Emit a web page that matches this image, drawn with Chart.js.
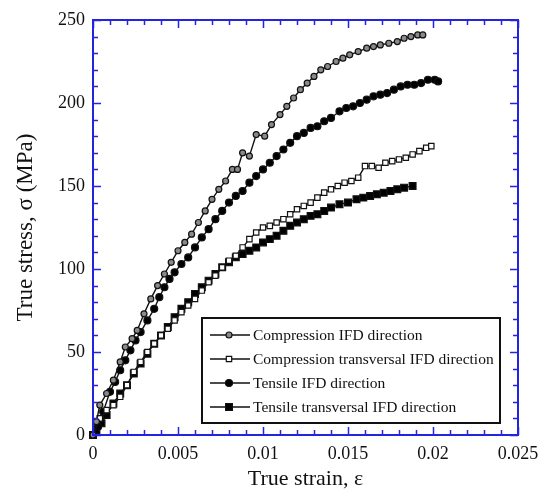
<!DOCTYPE html>
<html>
<head>
<meta charset="utf-8">
<script src="https://cdn.jsdelivr.net/npm/chart.js@4.4.1/dist/chart.umd.min.js"></script>
<style>
  html, body { margin: 0; padding: 0; background: #fff; }
  #wrap { width: 548px; height: 494px; }
</style>
</head>
<body>
<div id="wrap"><canvas id="stressChart" width="548" height="494"></canvas></div>
<script>
const AXIS_BLUE = '#2424e0';
const SERIF = '"Liberation Serif", "Times New Roman", serif';

const seriesLabels = [
  'Compression IFD direction',
  'Compression transversal IFD direction',
  'Tensile IFD direction',
  'Tensile transversal IFD direction'
];

// Compression, IFD direction (open grey circles)
const compIfdStrain = [0, 0.0002, 0.0004, 0.0008, 0.0012, 0.0016, 0.0019, 0.0023, 0.0026, 0.003, 0.0034, 0.0038, 0.0042, 0.0046, 0.005, 0.0054, 0.0058, 0.0062, 0.0066, 0.007, 0.0074, 0.0078, 0.0082, 0.0085, 0.0088, 0.0092, 0.0096, 0.0101, 0.0105, 0.011, 0.0114, 0.0118, 0.0122, 0.0126, 0.013, 0.0134, 0.0138, 0.0143, 0.0147, 0.0151, 0.0156, 0.0161, 0.0165, 0.0169, 0.0174, 0.0179, 0.0183, 0.0187, 0.0191, 0.0194];
const compIfdStress = [0, 8, 18, 25, 33, 44, 53, 58, 63, 73, 82, 90, 97, 104, 111, 116, 121, 128, 135, 142, 148, 153, 160, 160, 170, 168, 181, 180, 187, 193, 198, 203, 208, 212, 216, 220, 222, 225, 227, 229, 231, 233, 234, 235, 236, 237, 239, 240, 241, 241];

// Compression, transversal IFD direction (open squares)
const compTrStrain = [0, 0.0004, 0.0008, 0.0012, 0.0016, 0.002, 0.0024, 0.0028, 0.0032, 0.0036, 0.004, 0.0044, 0.0048, 0.0052, 0.0056, 0.006, 0.0064, 0.0068, 0.0072, 0.0076, 0.008, 0.0084, 0.0088, 0.0092, 0.0096, 0.01, 0.0104, 0.0108, 0.0112, 0.0116, 0.012, 0.0124, 0.0128, 0.0132, 0.0136, 0.014, 0.0144, 0.0148, 0.0152, 0.0156, 0.016, 0.0164, 0.0168, 0.0172, 0.0176, 0.018, 0.0184, 0.0188, 0.0192, 0.0196, 0.0199];
const compTrStress = [0, 10, 15, 18, 23, 30, 38, 44, 50, 55, 60, 64, 69, 74, 78, 82, 87, 92, 96, 101, 105, 108, 113, 118, 122, 125, 126, 128, 130, 133, 136, 138, 140, 143, 146, 148, 150, 152, 153, 155, 162, 162, 161, 164, 165, 166, 167, 169, 171, 173, 174];

// Tensile, IFD direction (filled circles)
const tensIfdStrain = [0, 0.0003, 0.0006, 0.001, 0.0013, 0.0016, 0.0019, 0.0022, 0.0025, 0.0028, 0.0032, 0.0036, 0.0039, 0.0042, 0.0045, 0.0048, 0.0052, 0.0056, 0.006, 0.0064, 0.0068, 0.0072, 0.0076, 0.008, 0.0084, 0.0088, 0.0092, 0.0096, 0.01, 0.0104, 0.0108, 0.0112, 0.0116, 0.012, 0.0124, 0.0128, 0.0132, 0.0136, 0.014, 0.0145, 0.0149, 0.0153, 0.0157, 0.0161, 0.0165, 0.0169, 0.0173, 0.0177, 0.0181, 0.0185, 0.0189, 0.0193, 0.0197, 0.0201, 0.0203];
const tensIfdStress = [0, 5, 14, 26, 32, 39, 45, 51, 57, 62, 69, 76, 83, 89, 94, 98, 103, 107, 113, 119, 124, 130, 135, 140, 144, 147, 152, 156, 160, 164, 168, 172, 176, 180, 182, 185, 186, 189, 191, 195, 197, 198, 200, 202, 204, 205, 206, 208, 210, 211, 211, 212, 214, 214, 213];

// Tensile, transversal IFD direction (filled squares)
const tensTrStrain = [0, 0.0002, 0.0005, 0.0008, 0.0012, 0.0016, 0.002, 0.0024, 0.0028, 0.0032, 0.0036, 0.004, 0.0044, 0.0048, 0.0052, 0.0056, 0.006, 0.0064, 0.0068, 0.0072, 0.0076, 0.008, 0.0084, 0.0088, 0.0092, 0.0096, 0.01, 0.0104, 0.0108, 0.0112, 0.0116, 0.012, 0.0124, 0.0128, 0.0132, 0.0136, 0.014, 0.0145, 0.015, 0.0155, 0.0159, 0.0163, 0.0167, 0.0171, 0.0175, 0.0179, 0.0183, 0.0188];
const tensTrStress = [0, 3, 7, 12, 19, 25, 30, 37, 43, 49, 55, 60, 65, 71, 76, 80, 85, 89, 93, 97, 101, 104, 107, 109, 111, 113, 116, 118, 120, 123, 126, 128, 130, 132, 133, 135, 137, 139, 140, 142, 143, 144, 145, 146, 147, 148, 149, 150];

// axis ticks
const xMajorTicks = [0, 0.005, 0.01, 0.015, 0.02, 0.025];
const yMajorTicks = [0, 50, 100, 150, 200, 250];
const xMinorStep = 0.001;
const yMinorStep = 10;

function toPoints(xs, ys) {
  return xs.map((x, i) => ({ x, y: ys[i] }));
}

const markerStyles = [
  { pointStyle: 'circle', radius: 3, fill: '#8a8a8a' },
  { pointStyle: 'rect', radius: 3.8, fill: '#ffffff' },
  { pointStyle: 'circle', radius: 3.5, fill: '#000000' },
  { pointStyle: 'rect', radius: 4.8, fill: '#000000' }
];

const seriesData = [
  toPoints(compIfdStrain, compIfdStress),
  toPoints(compTrStrain, compTrStress),
  toPoints(tensIfdStrain, tensIfdStress),
  toPoints(tensTrStrain, tensTrStress)
];

const datasets = seriesData.map((data, i) => ({
  label: seriesLabels[i],
  data,
  borderColor: '#111',
  borderWidth: 1.4,
  pointStyle: markerStyles[i].pointStyle,
  pointRadius: markerStyles[i].radius,
  pointBackgroundColor: markerStyles[i].fill,
  pointBorderColor: '#111',
  pointBorderWidth: 1.2,
  tension: 0,
  clip: false
}));

// blue frame with inward ticks on all four sides
const frameTicks = {
  id: 'frameTicks',
  afterDatasetsDraw(chart) {
    const { ctx, chartArea: a, scales: { x, y } } = chart;
    ctx.save();
    ctx.strokeStyle = AXIS_BLUE;
    ctx.lineWidth = 2;
    ctx.strokeRect(a.left, a.top, a.right - a.left, a.bottom - a.top);
    ctx.lineWidth = 1.5;
    ctx.beginPath();
    for (let v = 0; v <= 0.0250001; v += xMinorStep) {
      const major = xMajorTicks.some(t => Math.abs(t - v) < 1e-7);
      const len = major ? 8 : 5;
      const px = Math.round(x.getPixelForValue(v)) + 0.5;
      ctx.moveTo(px, a.bottom); ctx.lineTo(px, a.bottom - len);
      ctx.moveTo(px, a.top); ctx.lineTo(px, a.top + len);
    }
    for (let v = 0; v <= 250; v += yMinorStep) {
      const len = yMajorTicks.includes(v) ? 8 : 5;
      const py = Math.round(y.getPixelForValue(v)) + 0.5;
      ctx.moveTo(a.left, py); ctx.lineTo(a.left + len, py);
      ctx.moveTo(a.right, py); ctx.lineTo(a.right - len, py);
    }
    ctx.stroke();
    ctx.restore();
  }
};

// legend box inside the plot, lower right
const boxLegend = {
  id: 'boxLegend',
  afterDraw(chart) {
    const { ctx } = chart;
    const bx = 202, by = 318, bw = 298, bh = 105;
    ctx.save();
    ctx.fillStyle = '#fff';
    ctx.fillRect(bx, by, bw, bh);
    ctx.strokeStyle = '#111';
    ctx.lineWidth = 2;
    ctx.strokeRect(bx, by, bw, bh);
    ctx.font = '15.5px ' + SERIF;
    ctx.textBaseline = 'middle';
    chart.data.datasets.forEach((ds, i) => {
      const cy = by + 17 + i * 24;
      ctx.strokeStyle = '#111';
      ctx.lineWidth = 1.4;
      ctx.beginPath();
      ctx.moveTo(210, cy); ctx.lineTo(250, cy);
      ctx.stroke();
      ctx.fillStyle = ds.pointBackgroundColor;
      ctx.lineWidth = 1.2;
      Chart.helpers.drawPoint(ctx, {
        pointStyle: ds.pointStyle, radius: ds.pointRadius, rotation: 0, borderWidth: 1.2
      }, 229, cy);
      ctx.fillStyle = '#111';
      ctx.fillText(ds.label, 253, cy + 1);
    });
    ctx.restore();
  }
};

new Chart(document.getElementById('stressChart'), {
  type: 'line',
  data: { datasets },
  options: {
    responsive: false,
    animation: false,
    layout: { padding: { left: 0, top: 20, right: 30, bottom: 0 } },
    plugins: { legend: { display: false }, tooltip: { enabled: false } },
    scales: {
      x: {
        type: 'linear',
        min: 0,
        max: 0.025,
        afterFit: s => { s.height = 59; },
        grid: { display: false, drawTicks: false },
        border: { display: false },
        ticks: {
          stepSize: 0.005,
          padding: 8,
          color: '#111',
          font: { family: SERIF, size: 18 },
          maxRotation: 0,
          callback: v => String(+Number(v).toFixed(3))
        },
        title: {
          display: true,
          text: 'True strain, \u03b5',
          color: '#111',
          font: { family: SERIF, size: 22 },
          padding: { top: 0, bottom: 2 }
        }
      },
      y: {
        min: 0,
        max: 250,
        afterFit: s => { s.width = 93; },
        grid: { display: false, drawTicks: false },
        border: { display: false },
        ticks: {
          stepSize: 50,
          padding: 8,
          color: '#111',
          font: { family: SERIF, size: 18 }
        },
        title: {
          display: true,
          text: 'True stress, \u03c3 (MPa)',
          color: '#111',
          font: { family: SERIF, size: 23 },
          padding: { top: 12, bottom: 0 }
        }
      }
    }
  },
  plugins: [frameTicks, boxLegend]
});
</script>
</body>
</html>
